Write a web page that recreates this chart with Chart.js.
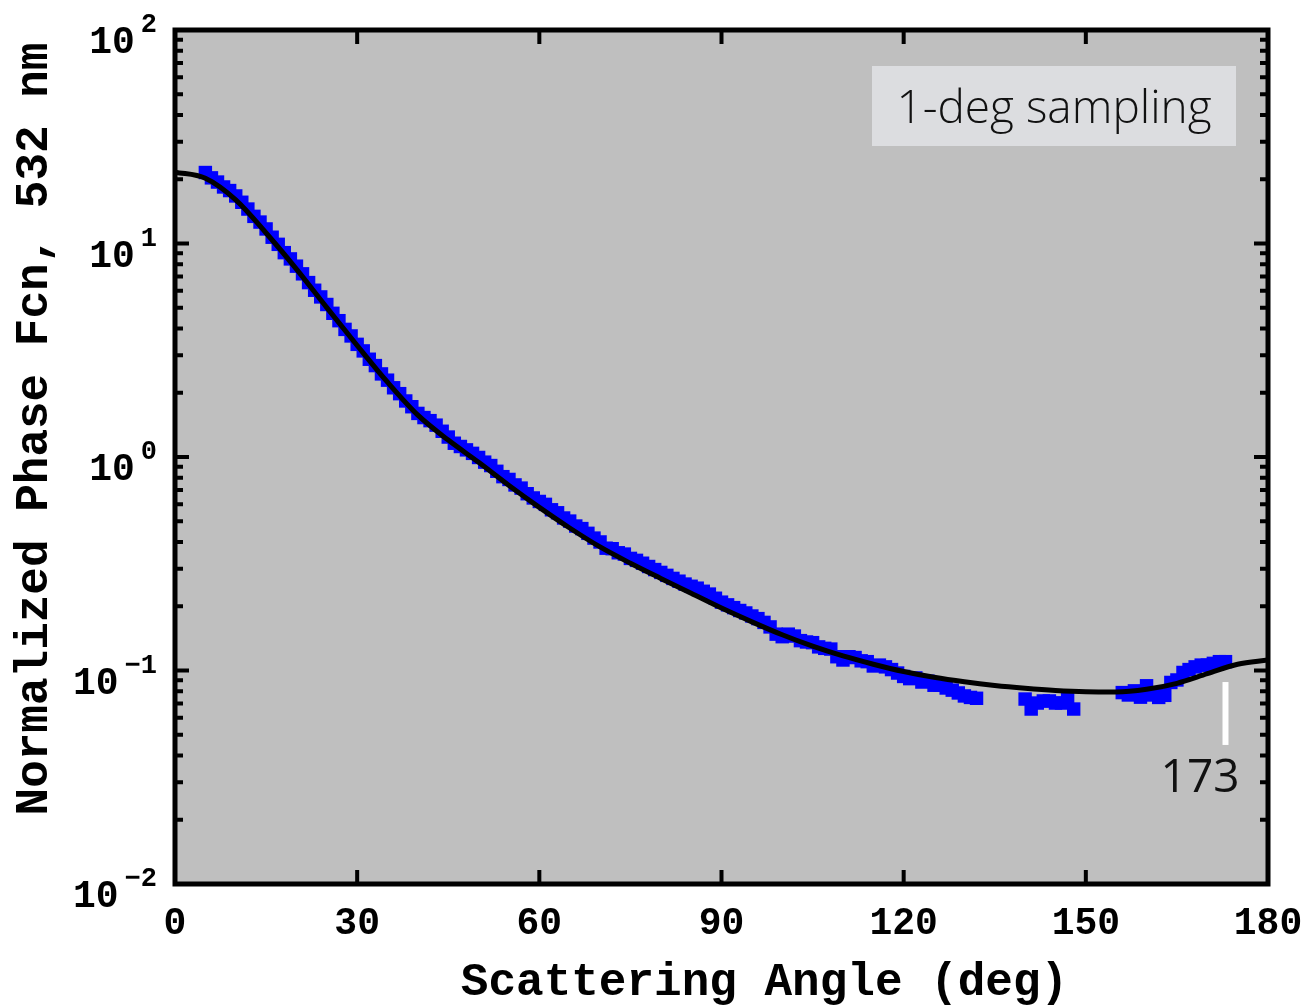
<!DOCTYPE html>
<html>
<head>
<meta charset="utf-8">
<script src="https://cdn.jsdelivr.net/npm/chart.js@4.4.1/dist/chart.umd.min.js"></script>
<style>
  html, body { margin: 0; padding: 0; background: #fff; }
  #wrap { width: 1305px; height: 1006px; }
</style>
</head>
<body>
<div id="wrap"><canvas id="phaseChart" width="1305" height="1006"></canvas></div>
<script>
// measured phase function, 1-deg sampling (no data 133-139 and 149-155)
const angles = [
  5, 6, 7, 8, 9, 10, 11, 12, 13, 14, 15, 16, 17, 18, 19, 20, 21, 22, 23, 24,
  25, 26, 27, 28, 29, 30, 31, 32, 33, 34, 35, 36, 37, 38, 39, 40, 41, 42, 43, 44,
  45, 46, 47, 48, 49, 50, 51, 52, 53, 54, 55, 56, 57, 58, 59, 60, 61, 62, 63, 64,
  65, 66, 67, 68, 69, 70, 71, 72, 73, 74, 75, 76, 77, 78, 79, 80, 81, 82, 83, 84,
  85, 86, 87, 88, 89, 90, 91, 92, 93, 94, 95, 96, 97, 98, 99, 100, 101, 102, 103, 104,
  105, 106, 107, 108, 109, 110, 111, 112, 113, 114, 115, 116, 117, 118, 119, 120, 121, 122, 123, 124,
  125, 126, 127, 128, 129, 130, 131, 132,
  140, 141, 142, 143, 144, 145, 146, 147, 148,
  156, 157, 158, 159, 160, 161, 162, 163, 164, 165, 166, 167, 168, 169, 170, 171, 172, 173
];
const phase = [
  21.5, 20.3, 19.4, 18.4, 17.7, 16.7, 15.6, 14.5, 13.4, 12.6, 11.7, 10.7, 9.91, 9.06, 8.47, 7.83, 7.21, 6.56, 6.04, 5.62,
  5.18, 4.71, 4.35, 3.96, 3.69, 3.37, 3.14, 2.87, 2.68, 2.45, 2.29, 2.11, 1.98, 1.83, 1.72, 1.60, 1.53, 1.48, 1.41, 1.32,
  1.24, 1.16, 1.12, 1.08, 1.04, 0.995, 0.946, 0.912, 0.857, 0.809, 0.785, 0.740, 0.715, 0.673, 0.643, 0.619, 0.600, 0.566, 0.548, 0.518,
  0.501, 0.475, 0.462, 0.439, 0.417, 0.400, 0.374, 0.372, 0.356, 0.351, 0.335, 0.328, 0.318, 0.307, 0.297, 0.288, 0.279, 0.270, 0.262, 0.254,
  0.248, 0.243, 0.235, 0.228, 0.218, 0.209, 0.203, 0.197, 0.191, 0.186, 0.180, 0.175, 0.168, 0.160, 0.148, 0.144, 0.148, 0.145, 0.138, 0.136,
  0.135, 0.129, 0.127, 0.126, 0.116, 0.112, 0.116, 0.115, 0.111, 0.110, 0.105, 0.106, 0.104, 0.101, 0.0973, 0.0938, 0.0916, 0.0923, 0.0883, 0.0891,
  0.0853, 0.0853, 0.0828, 0.0809, 0.0785, 0.0760, 0.0748, 0.0741,
  0.0735, 0.0660, 0.0704, 0.0720, 0.0720, 0.0704, 0.0704, 0.0730, 0.0660,
  0.0788, 0.0768, 0.0803, 0.0750, 0.0848, 0.0768, 0.0748, 0.0765, 0.0879, 0.0903, 0.0979, 0.101, 0.104, 0.106, 0.106, 0.108, 0.110, 0.110
];

// smooth fit curve
const fitAngles = [0, 5, 10, 15, 20, 25, 30, 35, 40, 45, 50, 55, 60, 65, 70, 75, 80, 85, 90,
  95, 100, 105, 110, 115, 120, 125, 130, 135, 140, 145, 150, 155, 160, 165, 170, 175, 180];
const fitPhase = [21.6, 20.2, 16.0, 11.2, 7.59, 5.01, 3.33, 2.24, 1.57, 1.20, 0.944, 0.736, 0.581, 0.465, 0.379, 0.318, 0.270, 0.230, 0.196,
  0.169, 0.147, 0.130, 0.117, 0.107, 0.0989, 0.0929, 0.0885, 0.0851, 0.0826, 0.0807, 0.0796, 0.0794, 0.0817, 0.0871, 0.0966, 0.107, 0.112];

// axes
const xTicks = [0, 30, 60, 90, 120, 150, 180];
const yDecades = [-2, -1, 0, 1, 2];

const monoFont = '"Liberation Mono", "DejaVu Sans Mono", monospace';

// ----------------------- frame, ticks, labels ----------------------- //
const framePlugin = {
  id: 'frame',
  beforeDraw(chart) {
    const { ctx, chartArea: a } = chart;
    ctx.save();
    ctx.fillStyle = '#ffffff';
    ctx.fillRect(0, 0, chart.width, chart.height);
    ctx.fillStyle = '#bfbfbf';
    ctx.fillRect(a.left, a.top, a.right - a.left, a.bottom - a.top);
    ctx.restore();
  },
  afterDatasetsDraw(chart) {
    const { ctx, chartArea: a } = chart;
    const x = chart.scales.x, y = chart.scales.y;
    ctx.save();

    // inward ticks
    ctx.strokeStyle = '#000';
    ctx.lineWidth = 4;
    ctx.beginPath();
    xTicks.forEach(v => {
      const px = x.getPixelForValue(v);
      ctx.moveTo(px, a.bottom); ctx.lineTo(px, a.bottom - 14);
      ctx.moveTo(px, a.top); ctx.lineTo(px, a.top + 14);
    });
    yDecades.forEach(e => {
      const base = Math.pow(10, e);
      const py = y.getPixelForValue(base);
      ctx.moveTo(a.left, py); ctx.lineTo(a.left + 14, py);
      ctx.moveTo(a.right, py); ctx.lineTo(a.right - 14, py);
      if (e < 2) {
        for (let k = 2; k <= 9; k++) {
          const pm = y.getPixelForValue(k * base);
          ctx.moveTo(a.left, pm); ctx.lineTo(a.left + 8, pm);
          ctx.moveTo(a.right, pm); ctx.lineTo(a.right - 8, pm);
        }
      }
    });
    ctx.stroke();

    // frame
    ctx.lineWidth = 5;
    ctx.strokeRect(a.left, a.top, a.right - a.left, a.bottom - a.top);

    // y tick labels 10^n
    ctx.fillStyle = '#000';
    ctx.textAlign = 'right';
    ctx.textBaseline = 'alphabetic';
    const right = a.left - 18;
    yDecades.forEach(e => {
      const py = y.getPixelForValue(Math.pow(10, e));
      const expText = e < 0 ? '\u2212' + (-e) : String(e);
      ctx.font = 'bold 27px ' + monoFont;
      const ew = ctx.measureText(expText).width;
      ctx.fillText(expText, right, py + 2);
      ctx.font = 'bold 38px ' + monoFont;
      ctx.fillText('10', right - ew - 6, py + 23);
    });

    // axis titles
    ctx.textAlign = 'center';
    ctx.textBaseline = 'middle';
    ctx.font = 'bold 46px ' + monoFont;
    ctx.fillText('Scattering Angle (deg)', (a.left + a.right) / 2 + 43, a.bottom + 99);
    ctx.save();
    ctx.translate(a.left - 140, (a.top + a.bottom) / 2 - 28);
    ctx.rotate(-Math.PI / 2);
    ctx.fillText('Normalized Phase Fcn, 532 nm', 0, 0);
    ctx.restore();

    // "1-deg sampling" box
    const bw = 364, bh = 80;
    const bx = a.right - 32 - bw, by = a.top + 36;
    ctx.fillStyle = '#dcdde0';
    ctx.fillRect(bx, by, bw, bh);
    ctx.fillStyle = '#111';
    ctx.font = '300 46px "Open Sans", Lato, sans-serif';
    ctx.textAlign = 'center';
    ctx.textBaseline = 'alphabetic';
    ctx.fillText('1-deg sampling', bx + bw / 2, by + 57);

    // 173 deg marker
    const mx = x.getPixelForValue(173);
    ctx.strokeStyle = '#ffffff';
    ctx.lineWidth = 6;
    ctx.beginPath();
    ctx.moveTo(mx, y.getPixelForValue(0.0883));
    ctx.lineTo(mx, y.getPixelForValue(0.0448));
    ctx.stroke();
    ctx.fillStyle = '#111';
    ctx.font = '400 46px "Open Sans", Lato, sans-serif';
    ctx.textAlign = 'right';
    ctx.fillText('173', mx + 14, y.getPixelForValue(0.0448) + 47);

    ctx.restore();
  }
};

const ctx = document.getElementById('phaseChart').getContext('2d');
const phaseChart = new Chart(ctx, {
  type: 'scatter',
  data: {
    datasets: [
      {
        label: 'fit',
        data: fitAngles.map((a, i) => ({ x: a, y: fitPhase[i] })),
        showLine: true,
        borderColor: '#000000',
        borderWidth: 5,
        pointRadius: 0,
        cubicInterpolationMode: 'monotone',
        order: 0
      },
      {
        label: 'measured',
        data: angles.map((a, i) => ({ x: a, y: phase[i] })),
        showLine: false,
        pointStyle: 'rect',
        pointRadius: 9.5,
        pointBorderWidth: 0,
        backgroundColor: '#0000ff',
        borderColor: '#0000ff',
        order: 1
      }
    ]
  },
  options: {
    responsive: false,
    animation: false,
    devicePixelRatio: 1,
    layout: { padding: { top: 30, right: 37, left: 0, bottom: 0 } },
    plugins: { legend: { display: false }, tooltip: { enabled: false } },
    scales: {
      x: {
        type: 'linear',
        min: 0,
        max: 180,
        afterBuildTicks: s => { s.ticks = xTicks.map(v => ({ value: v })); },
        ticks: {
          color: '#000',
          font: { family: monoFont, size: 38, weight: 'bold' },
          padding: 18,
          maxRotation: 0,
          autoSkip: false
        },
        grid: { display: false, drawTicks: false },
        border: { display: false },
        title: { display: false },
        afterFit: s => { s.height = 122; s.paddingLeft = 0; s.paddingRight = 0; }
      },
      y: {
        type: 'logarithmic',
        min: 0.01,
        max: 100,
        ticks: { display: false },
        grid: { display: false, drawTicks: false },
        border: { display: false },
        afterFit: s => { s.width = 175; }
      }
    }
  },
  plugins: [framePlugin]
});
</script>
</body>
</html>
